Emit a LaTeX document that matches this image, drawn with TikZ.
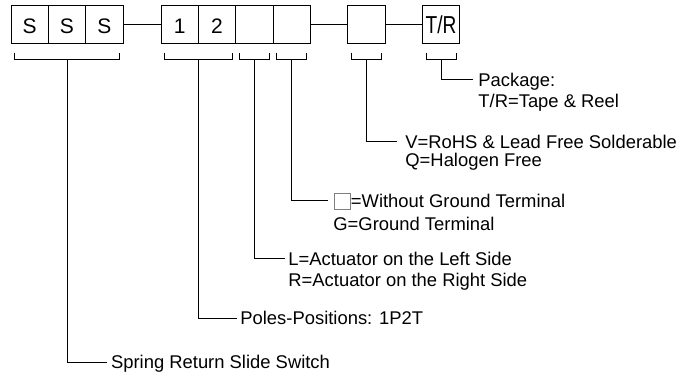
\documentclass[tikz,border=0pt]{standalone}
\usepackage{fontspec}
\usepackage{graphicx}
\setmainfont{Liberation Sans}
\usetikzlibrary{calc}

\newcommand{\notefont}{\fontsize{18.4}{21}\selectfont}
\newcommand{\cellfont}{\fontsize{21}{21}\selectfont}
% bracket under boxes #1..#2, stem point named #3
\newcommand{\CodeBracket}[3]{%
  \draw ([shift={(4pt,-9pt)}]#1.south west) -- ([shift={(4pt,-16pt)}]#1.south west)
     -- ([shift={(-4pt,-16pt)}]#2.south east) -- ([shift={(-4pt,-9pt)}]#2.south east);
  \coordinate (#3) at ($([shift={(4pt,-16pt)}]#1.south west)!0.5!([shift={(-4pt,-16pt)}]#2.south east)$);
}

\tikzset{
  cell/.style={draw, minimum width=37.4pt, minimum height=37.4pt, inner sep=0pt,
               text height=17.6pt, text depth=0pt, font=\cellfont},
  note/.style={anchor=base west, inner sep=0pt, font=\notefont},
}

\begin{document}
\begin{tikzpicture}[x=1pt,y=-1pt,line width=0.8pt]
  \useasboundingbox (0,0) rectangle (684,372);
  % code boxes
  \node[cell] (s1) at ( 29.7,24.5) {S};
  \node[cell] (s2) at ( 67.0,24.5) {S};
  \node[cell] (s3) at (104.3,24.5) {S};
  \node[cell] (p1) at (179.6,24.5) {1};
  \node[cell] (p2) at (216.9,24.5) {2};
  \node[cell] (a)  at (254.2,24.5) {};
  \node[cell] (g)  at (291.6,24.5) {};
  \node[cell] (v)  at (366.2,24.5) {};
  \node[cell] (tr) at (441.0,24.5) {\scalebox{0.78}[1]{\fontsize{24.5}{24.5}\selectfont T/R}};
  \draw (s3) -- (p1);
  \draw (g) -- (v);
  \draw (v) -- (tr);
  % brackets
  \CodeBracket{s1}{s3}{sssB}
  \CodeBracket{p1}{p2}{polB}
  \CodeBracket{a}{a}{actB}
  \CodeBracket{g}{g}{gndB}
  \CodeBracket{v}{v}{rohB}
  \CodeBracket{tr}{tr}{pkgB}
  % leaders
  \coordinate (pkgE) at (473,79.5);
  \coordinate (rohE) at (397,141.7);
  \coordinate (gndE) at (328,200.7);
  \coordinate (actE) at (285,258.3);
  \coordinate (polE) at (237,318);
  \coordinate (sssE) at (107,362);
  \draw (pkgB) |- (pkgE);
  \draw (rohB) |- (rohE);
  \draw (gndB) |- (gndE);
  \draw (actB) |- (actE);
  \draw (polB) |- (polE);
  \draw (sssB) |- (sssE);
  % notes
  \node[note] (pkgN)  at (478,86.6)  {Package:};
  \node[note] (pkgN2) at (478,107.8) {T/R=Tape \& Reel};
  \node[note] (rohN)  at (405,148.1) {V=RoHS \& Lead Free Solderable};
  \node[note] (rohN2) at (405,166.3) {Q=Halogen Free};
  \node[draw=gray,line width=0.6pt,minimum width=16pt,minimum height=16pt,inner sep=0pt] (gndSym) at (342.5,201) {};
  \node[note] (gndN)  at (350.5,207.6) {=Without Ground Terminal};
  \node[note] (gndN2) at (333,230.8) {G=Ground Terminal};
  \node[note] (actN)  at (288,265.1) {L=Actuator on the Left Side};
  \node[note] (actN2) at (288,286.6) {R=Actuator on the Right Side};
  \node[note] (polN)  at (240,324.6) {Poles-Positions: 1P2T};
  \node[note] (sssN)  at (110.7,368.6) {Spring Return Slide Switch};
\end{tikzpicture}
\end{document}
